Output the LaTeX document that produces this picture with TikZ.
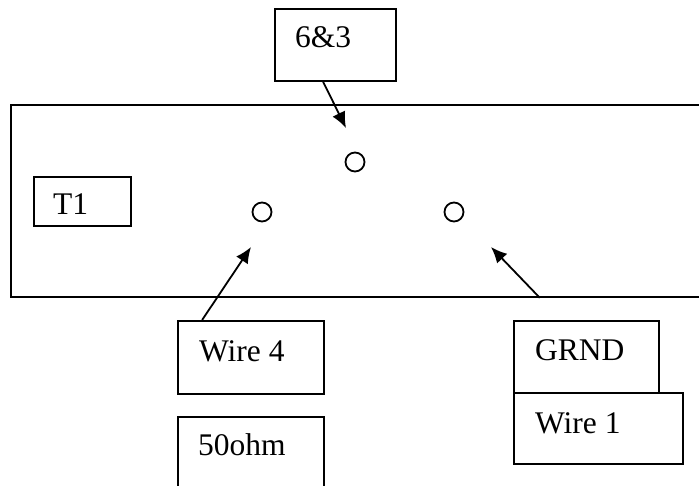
\documentclass[tikz,border=0pt]{standalone}
\usepackage{fontspec}
\setmainfont{Liberation Serif}
\usetikzlibrary{arrows.meta,calc}
\begin{document}
\begin{tikzpicture}[x=1pt,y=-1pt,
  box/.style={draw,line width=1.8pt,rectangle,inner sep=0pt,anchor=north west},
  lbl/.style={inner sep=0pt,anchor=base west,font=\fontsize{31.5}{37}\selectfont},
  hole/.style={draw,line width=1.8pt,circle,inner sep=0pt,minimum size=19pt},
  arr/.style={line width=1.8pt,-{Latex[length=16pt,width=14pt]}}]
\useasboundingbox (0,0) rectangle (699,486);
% main plate (open at the right edge)
\node[box,minimum width=720pt,minimum height=192pt] (plate) at (10,104) {};
% boxes
\node[box,minimum width=121pt,minimum height=72pt] (b63) at (274,8) {};
\node[lbl] (t63) at (295,48) {6\&3};
\node[box,minimum width=97pt,minimum height=49pt] (bT1) at (33,176) {};
\node[lbl] (tT1) at (53,215) {T1};
\node[box,minimum width=146pt,minimum height=73pt] (bw4) at (177,320) {};
\node[lbl] (tw4) at (199,362) {Wire 4};
\node[box,minimum width=146pt,minimum height=90pt] (b50) at (177,416) {};
\node[lbl] (t50) at (198,455) {50ohm};
\node[box,minimum width=145pt,minimum height=72pt] (bgr) at (513,320) {};
\node[lbl] (tgr) at (535,360) {GRND};
\node[box,minimum width=169pt,minimum height=71pt] (bw1) at (513,392) {};
\node[lbl] (tw1) at (535,433) {Wire 1};
% holes
\node[hole] (htop) at (355,162) {};
\node[hole] (hleft) at (262,212) {};
\node[hole] (hright) at (454,212) {};
% arrow tips
\coordinate (e63) at (346,128);
\coordinate (ew4) at (251,247);
\coordinate (egr) at (491,247);
\draw[arr] ($(b63.south west)!0.4!(b63.south east)$) -- (e63);
\draw[arr] ($(bw4.north west)!0.17!(bw4.north east)$) -- (ew4);
\draw[arr] ($(plate.south west)!0.734!(plate.south east)$) -- (egr);
\end{tikzpicture}
\end{document}
